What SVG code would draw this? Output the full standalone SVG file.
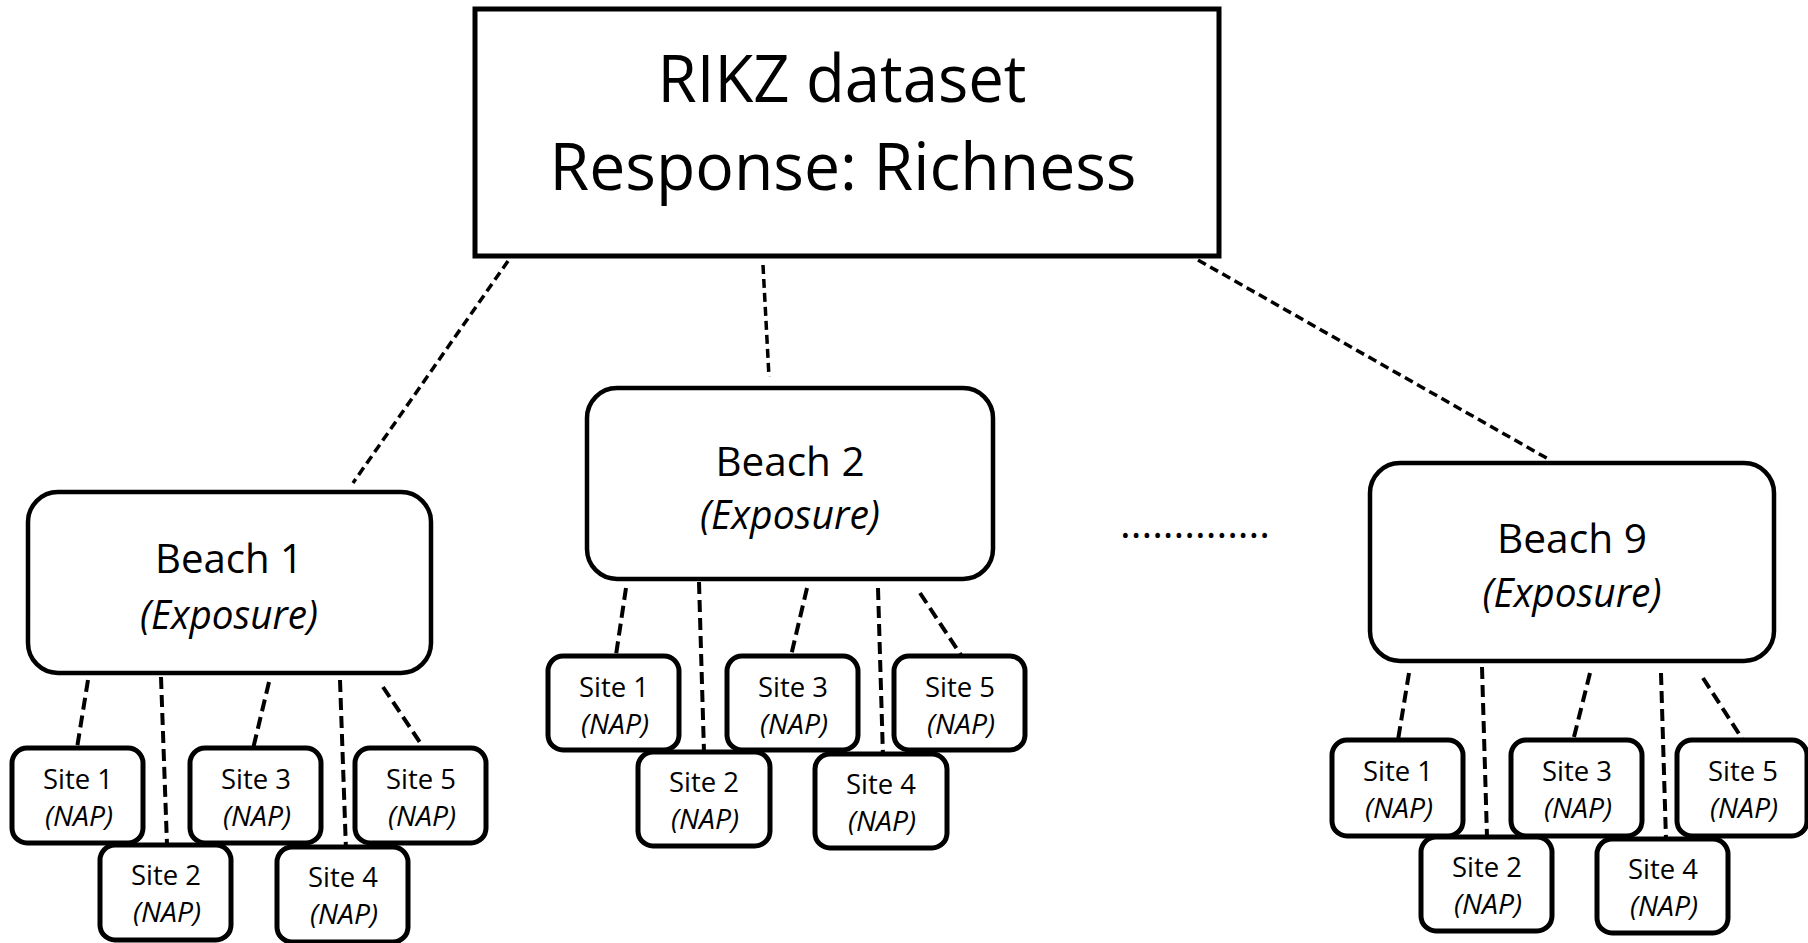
<svg xmlns="http://www.w3.org/2000/svg" width="1808" height="943" viewBox="0 0 1808 943">
<style>
.box{fill:#fff;stroke:#000;stroke-width:5}
.beach{fill:#fff;stroke:#000;stroke-width:4.5}
.site{fill:#fff;stroke:#000;stroke-width:5}
.c1{fill:none;stroke:#000;stroke-width:3.5;stroke-dasharray:9 5}
.c2{fill:none;stroke:#000;stroke-width:4;stroke-dasharray:12 6}
text{font-family:"Open Sans","Liberation Sans",sans-serif;fill:#000;text-anchor:middle}
.t{font-size:66px}
.b{font-size:40px}
.s{font-size:28px}
.i{font-style:italic}
</style>
<rect width="1808" height="943" fill="#fff"/>
<g id="connectors">
<line class="c1" x1="508" y1="261" x2="353" y2="483"/>
<line class="c1" x1="763" y1="265" x2="769" y2="377"/>
<line class="c1" x1="1198" y1="260" x2="1550" y2="460"/>
<line class="c2" x1="88" y1="680" x2="77" y2="748"/>
<line class="c2" x1="161" y1="677" x2="167" y2="845"/>
<line class="c2" x1="269" y1="682" x2="252" y2="753"/>
<line class="c2" x1="340" y1="680" x2="346" y2="850"/>
<line class="c2" x1="383" y1="687" x2="423" y2="747"/>
<line class="c2" x1="626" y1="588" x2="616" y2="655"/>
<line class="c2" x1="699" y1="582" x2="704" y2="752"/>
<line class="c2" x1="807" y1="588" x2="790" y2="660"/>
<line class="c2" x1="878" y1="588" x2="883" y2="757"/>
<line class="c2" x1="920" y1="593" x2="961" y2="655"/>
<line class="c2" x1="1409" y1="673" x2="1398" y2="740"/>
<line class="c2" x1="1482" y1="667" x2="1487" y2="837"/>
<line class="c2" x1="1590" y1="673" x2="1572" y2="745"/>
<line class="c2" x1="1661" y1="673" x2="1666" y2="840"/>
<line class="c2" x1="1703" y1="678" x2="1743" y2="740"/>
</g>
<g id="title">
<rect class="box" x="475" y="9" width="744" height="247"/>
<text class="t" x="842" y="102" textLength="369" lengthAdjust="spacingAndGlyphs">RIKZ dataset</text>
<text class="t" x="843" y="190" textLength="587" lengthAdjust="spacingAndGlyphs">Response: Richness</text>
</g>
<g id="beach1">
<rect class="beach" x="28" y="492" width="403" height="181" rx="30"/>
<text class="b" x="229" y="573" textLength="148" lengthAdjust="spacingAndGlyphs">Beach 1</text>
<text class="b i" x="229" y="629" textLength="178" lengthAdjust="spacingAndGlyphs">(Exposure)</text>
</g>
<g id="beach2">
<rect class="beach" x="587" y="388" width="406" height="191" rx="30"/>
<text class="b" x="790" y="476" textLength="149" lengthAdjust="spacingAndGlyphs">Beach 2</text>
<text class="b i" x="790" y="529" textLength="180" lengthAdjust="spacingAndGlyphs">(Exposure)</text>
</g>
<g id="beach9">
<rect class="beach" x="1370" y="463" width="404" height="198" rx="30"/>
<text class="b" x="1572" y="553" textLength="150" lengthAdjust="spacingAndGlyphs">Beach 9</text>
<text class="b i" x="1572" y="607" textLength="179" lengthAdjust="spacingAndGlyphs">(Exposure)</text>
</g>
<g id="ellipsis">
<text class="b" x="1195" y="538" textLength="150" lengthAdjust="spacingAndGlyphs">..............</text>
</g>
<g id="b1s1"><rect class="site" x="12" y="748" width="131" height="95" rx="15"/><text class="s" x="78" y="789" textLength="70" lengthAdjust="spacingAndGlyphs">Site 1</text><text class="s i" x="79" y="826" textLength="68" lengthAdjust="spacingAndGlyphs">(NAP)</text></g>
<g id="b1s3"><rect class="site" x="190" y="748" width="131" height="95" rx="15"/><text class="s" x="256" y="789" textLength="70" lengthAdjust="spacingAndGlyphs">Site 3</text><text class="s i" x="257" y="826" textLength="68" lengthAdjust="spacingAndGlyphs">(NAP)</text></g>
<g id="b1s5"><rect class="site" x="355" y="748" width="131" height="95" rx="15"/><text class="s" x="421" y="789" textLength="70" lengthAdjust="spacingAndGlyphs">Site 5</text><text class="s i" x="422" y="826" textLength="68" lengthAdjust="spacingAndGlyphs">(NAP)</text></g>
<g id="b1s2"><rect class="site" x="100" y="845" width="131" height="95" rx="15"/><text class="s" x="166" y="885" textLength="70" lengthAdjust="spacingAndGlyphs">Site 2</text><text class="s i" x="167" y="922" textLength="68" lengthAdjust="spacingAndGlyphs">(NAP)</text></g>
<g id="b1s4"><rect class="site" x="277" y="847" width="131" height="95" rx="15"/><text class="s" x="343" y="887" textLength="70" lengthAdjust="spacingAndGlyphs">Site 4</text><text class="s i" x="344" y="924" textLength="68" lengthAdjust="spacingAndGlyphs">(NAP)</text></g>
<g id="b2s1"><rect class="site" x="548" y="656" width="131" height="94" rx="15"/><text class="s" x="614" y="697" textLength="70" lengthAdjust="spacingAndGlyphs">Site 1</text><text class="s i" x="615" y="734" textLength="68" lengthAdjust="spacingAndGlyphs">(NAP)</text></g>
<g id="b2s3"><rect class="site" x="727" y="656" width="131" height="94" rx="15"/><text class="s" x="793" y="697" textLength="70" lengthAdjust="spacingAndGlyphs">Site 3</text><text class="s i" x="794" y="734" textLength="68" lengthAdjust="spacingAndGlyphs">(NAP)</text></g>
<g id="b2s5"><rect class="site" x="894" y="656" width="131" height="94" rx="15"/><text class="s" x="960" y="697" textLength="70" lengthAdjust="spacingAndGlyphs">Site 5</text><text class="s i" x="961" y="734" textLength="68" lengthAdjust="spacingAndGlyphs">(NAP)</text></g>
<g id="b2s2"><rect class="site" x="638" y="752" width="132" height="94" rx="15"/><text class="s" x="704" y="792" textLength="70" lengthAdjust="spacingAndGlyphs">Site 2</text><text class="s i" x="705" y="829" textLength="68" lengthAdjust="spacingAndGlyphs">(NAP)</text></g>
<g id="b2s4"><rect class="site" x="815" y="754" width="132" height="94" rx="15"/><text class="s" x="881" y="794" textLength="70" lengthAdjust="spacingAndGlyphs">Site 4</text><text class="s i" x="882" y="831" textLength="68" lengthAdjust="spacingAndGlyphs">(NAP)</text></g>
<g id="b9s1"><rect class="site" x="1332" y="740" width="131" height="96" rx="15"/><text class="s" x="1398" y="781" textLength="70" lengthAdjust="spacingAndGlyphs">Site 1</text><text class="s i" x="1399" y="818" textLength="68" lengthAdjust="spacingAndGlyphs">(NAP)</text></g>
<g id="b9s3"><rect class="site" x="1511" y="740" width="131" height="96" rx="15"/><text class="s" x="1577" y="781" textLength="70" lengthAdjust="spacingAndGlyphs">Site 3</text><text class="s i" x="1578" y="818" textLength="68" lengthAdjust="spacingAndGlyphs">(NAP)</text></g>
<g id="b9s5"><rect class="site" x="1677" y="740" width="130" height="96" rx="15"/><text class="s" x="1743" y="781" textLength="70" lengthAdjust="spacingAndGlyphs">Site 5</text><text class="s i" x="1744" y="818" textLength="68" lengthAdjust="spacingAndGlyphs">(NAP)</text></g>
<g id="b9s2"><rect class="site" x="1421" y="837" width="131" height="94" rx="15"/><text class="s" x="1487" y="877" textLength="70" lengthAdjust="spacingAndGlyphs">Site 2</text><text class="s i" x="1488" y="914" textLength="68" lengthAdjust="spacingAndGlyphs">(NAP)</text></g>
<g id="b9s4"><rect class="site" x="1597" y="839" width="131" height="94" rx="15"/><text class="s" x="1663" y="879" textLength="70" lengthAdjust="spacingAndGlyphs">Site 4</text><text class="s i" x="1664" y="916" textLength="68" lengthAdjust="spacingAndGlyphs">(NAP)</text></g>
</svg>
